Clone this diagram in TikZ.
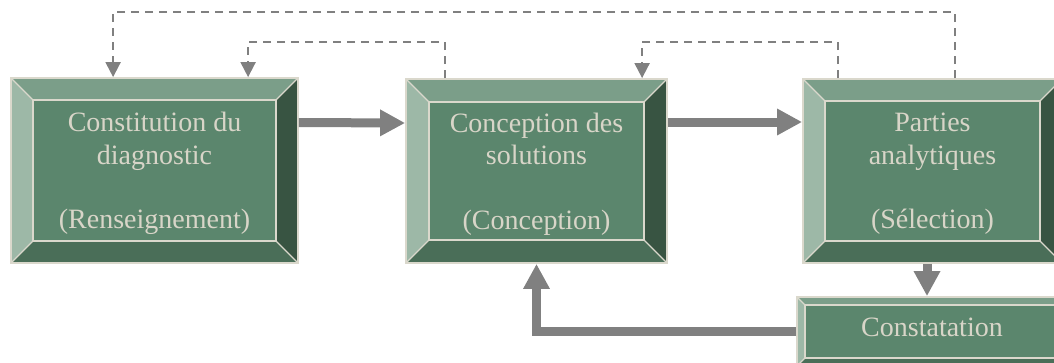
\documentclass[tikz,border=0pt]{standalone}
\usepackage{fontspec}
\setmainfont{Liberation Serif}
\usetikzlibrary{arrows.meta}

\definecolor{facec}{HTML}{5B866D}
\definecolor{topc}{HTML}{7B9E89}
\definecolor{leftc}{HTML}{9DB8A7}
\definecolor{rightc}{HTML}{385442}
\definecolor{bottomc}{HTML}{4A6E58}
\definecolor{edgec}{HTML}{DAD8CC}
\definecolor{textc}{HTML}{D8D5C8}
\definecolor{arrowc}{HTML}{808080}

\tikzset{
  bevelbox/.style={
    rectangle, inner sep=0pt, fill=facec, draw=edgec, line width=1.8pt,
    text=textc, align=center,
    font={\fontsize{28pt}{32.3pt}\selectfont},
    path picture={
      \def\bv{#1}
      \coordinate (NW) at (path picture bounding box.north west);
      \coordinate (NE) at (path picture bounding box.north east);
      \coordinate (SW) at (path picture bounding box.south west);
      \coordinate (SE) at (path picture bounding box.south east);
      \coordinate (iNW) at ([shift={(\bv,-\bv)}]NW);
      \coordinate (iNE) at ([shift={(-\bv,-\bv)}]NE);
      \coordinate (iSW) at ([shift={(\bv,\bv)}]SW);
      \coordinate (iSE) at ([shift={(-\bv,\bv)}]SE);
      \fill[topc] (NW) -- (NE) -- (iNE) -- (iNW) -- cycle;
      \fill[leftc] (NW) -- (iNW) -- (iSW) -- (SW) -- cycle;
      \fill[rightc] (NE) -- (SE) -- (iSE) -- (iNE) -- cycle;
      \fill[bottomc] (SW) -- (iSW) -- (iSE) -- (SE) -- cycle;
      \draw[edgec, line width=1.4pt] (iNW) rectangle (iSE);
      \draw[edgec, line width=1.2pt] (NW) -- (iNW) (NE) -- (iNE)
        (SW) -- (iSW) (SE) -- (iSE);
    }},
  stagebox/.style={bevelbox=#1, text depth=0pt},
  flowarrow/.style={draw=arrowc, line width=9pt, line join=miter,
    -{Triangle[width=25pt,length=25pt]}, arrowc},
  feedback/.style={draw=arrowc, line width=2pt, dash pattern=on 8pt off 6pt,
    -{Triangle[width=15pt,length=15pt]}, arrowc}
}

\begin{document}
\begin{tikzpicture}[x=1pt, y=-1pt]
\useasboundingbox (0,0) rectangle (1054,362);

% main stages
\node[stagebox=22pt, minimum width=287pt, minimum height=185pt] (b1) at (154.5,170.5)
  {Constitution du\\diagnostic\\\mbox{}\\(Renseignement)};
\node[stagebox=23pt, minimum width=261pt, minimum height=184pt] (b2) at (536.5,171)
  {Conception des\\solutions\\\mbox{}\\(Conception)};
\node[stagebox=22pt, minimum width=259pt, minimum height=184pt] (b3) at (932.5,171)
  {Parties\\analytiques\\\mbox{}\\(Sélection)};
\node[bevelbox=8pt, minimum width=270pt, minimum height=69pt, text depth=8pt] (b4) at (932,331.5)
  {Constatation};

% forward flow
\draw[flowarrow] ([yshift=48pt]b1.east) -- ([yshift=48pt]b2.west);
\draw[flowarrow] ([yshift=49pt]b2.east) -- ([yshift=49pt]b3.west);
\draw[flowarrow] ([xshift=-5.5pt]b3.south) -- ([xshift=-5.5pt]b3.south |- b4.north);
\draw[flowarrow] (b4.west) -| (b2.south);

% feedback loops
\draw[feedback] ([xshift=153pt]b3.north west) -- ++(0pt,66pt) -| ([xshift=103pt]b1.north west);
\draw[feedback] ([xshift=40pt]b2.north west) -- ++(0pt,36pt) -| ([xshift=238pt]b1.north west);
\draw[feedback] ([xshift=36pt]b3.north west) -- ++(0pt,36pt) -| ([xshift=237pt]b2.north west);
\end{tikzpicture}
\end{document}
